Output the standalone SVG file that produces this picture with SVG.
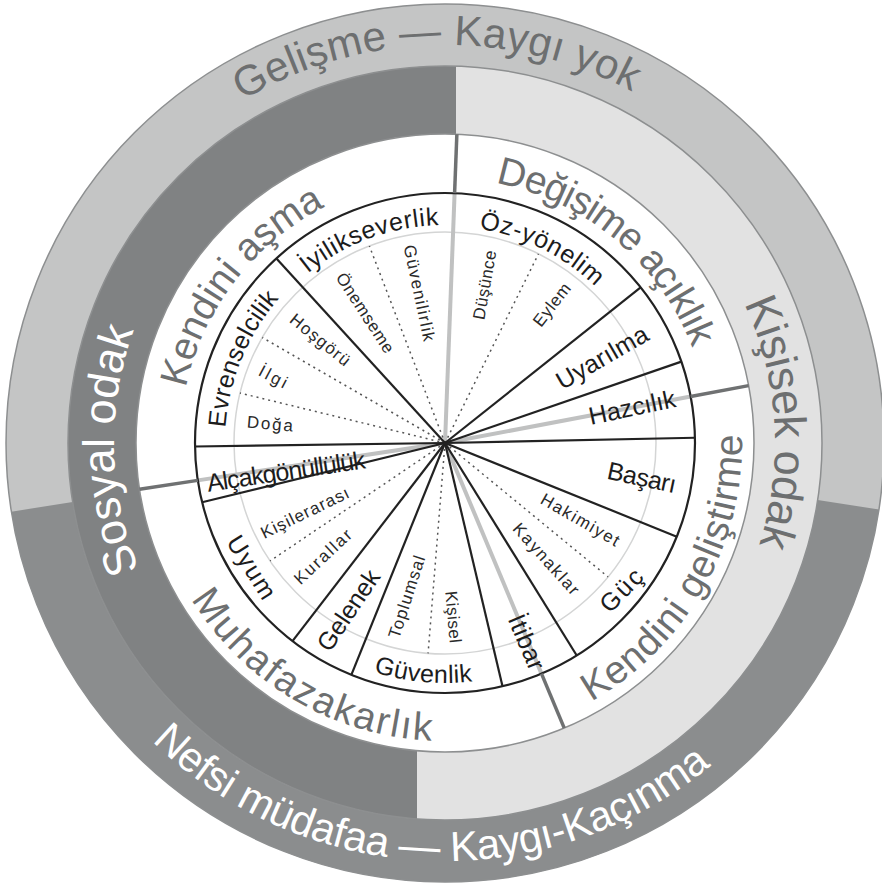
<svg xmlns="http://www.w3.org/2000/svg" width="882" height="892" viewBox="0 0 882 892">
<defs>
<style>
text { font-family: "Liberation Sans", Arial, sans-serif; }
.outer { font-size: 42px; }
.ring2 { font-size: 45px; }
.ho { font-size: 39px; fill: #6d6f70; }
.val { font-size: 25px; fill: #1c1c1c; }
.sub { font-size: 17px; fill: #2a2a2a; }
.c { text-anchor: middle; dominant-baseline: central; }
.blk { stroke: #222; stroke-width: 2.2; }
.dot { stroke: #555; stroke-width: 1.5; stroke-dasharray: 2 4; }
.lt { stroke: #c0c1c1; stroke-width: 4; }
.dk { stroke: #6f7172; stroke-width: 3.5; }
.ringline { fill: none; stroke: #8d8f90; stroke-width: 1.5; }
</style>
<path id="p-gel" d="M242.40,100.43 A398,398 0 0 1 673.29,116.98"/>
<path id="p-nef" d="M152.02,741.14 A418,418 0 0 0 765.21,711.69"/>
<path id="p-sos" d="M139.20,569.67 A331,331 0 0 1 145.01,303.11"/>
<path id="p-kis" d="M744.08,303.54 A330,330 0 0 1 744.08,582.46"/>
<path id="p-ka" d="M185.79,387.90 A265,265 0 0 1 354.36,193.98"/>
<path id="p-deg" d="M495.56,182.87 A265,265 0 0 1 705.97,396.98"/>
<path id="p-kg" d="M591.25,701.50 A297,297 0 0 0 737.49,391.43"/>
<path id="p-muh" d="M191.18,599.15 A298,298 0 0 0 496.75,736.47"/>
<path id="p-evr" d="M225.54,427.65 A220,220 0 0 1 303.59,274.47"/>
<path id="p-iyi" d="M307.81,273.58 A218,218 0 0 1 464.00,225.83"/>
<path id="p-oz" d="M478.95,228.67 A217,217 0 0 1 611.23,303.51"/>
<path id="p-guv" d="M373.63,672.14 A240,240 0 0 0 527.08,668.53"/>
</defs>

<g id="rings">
<circle cx="445" cy="443" r="439" fill="#c4c5c5"/>
<path d="M878.95,509.40 A439,439 0 0 1 11.40,511.67 L72.64,501.97 A377,377 0 0 0 817.66,500.03 Z" fill="#8b8d8e"/>
<circle cx="445" cy="443" r="377" fill="#e2e2e2"/>
<path d="M456,66.16 A377,377 0 0 0 417,818.96 L417,750.73 A309,309 0 0 1 456,134.20 Z" fill="#808283"/>
<circle cx="445" cy="443" r="309" fill="#ffffff"/>
<circle class="ringline" cx="445" cy="443" r="439"/>
<circle class="ringline" cx="445" cy="443" r="377"/>
<circle class="ringline" cx="445" cy="443" r="309"/>
<circle cx="445" cy="443" r="211" fill="none" stroke="#d4d5d5" stroke-width="1.5"/>
</g>

<g id="connectors">
<line class="lt" x1="445" y1="443" x2="454.60" y2="193.19"/>
<line class="lt" x1="445" y1="443" x2="690.65" y2="396.58"/>
<line class="lt" x1="445" y1="443" x2="541.48" y2="673.64"/>
<line class="lt" x1="445" y1="443" x2="197.81" y2="480.39"/>
<line class="dot" x1="445" y1="443" x2="240.00" y2="393.03"/>
<line class="dot" x1="445" y1="443" x2="262.27" y2="337.50"/>
<line class="dot" x1="445" y1="443" x2="369.38" y2="246.01"/>
<line class="dot" x1="445" y1="443" x2="538.49" y2="253.84"/>
<line class="dot" x1="445" y1="443" x2="608.05" y2="576.91"/>
<line class="dot" x1="445" y1="443" x2="428.08" y2="653.32"/>
<line class="dot" x1="445" y1="443" x2="270.07" y2="560.99"/>
<line class="blk" x1="445" y1="443" x2="276.43" y2="258.39"/>
<line class="blk" x1="445" y1="443" x2="640.65" y2="287.37"/>
<line class="blk" x1="445" y1="443" x2="681.38" y2="361.61"/>
<line class="blk" x1="445" y1="443" x2="694.95" y2="437.76"/>
<line class="blk" x1="445" y1="443" x2="676.80" y2="536.65"/>
<line class="blk" x1="445" y1="443" x2="576.74" y2="655.47"/>
<line class="blk" x1="445" y1="443" x2="502.51" y2="686.30"/>
<line class="blk" x1="445" y1="443" x2="351.35" y2="674.80"/>
<line class="blk" x1="445" y1="443" x2="292.46" y2="641.07"/>
<line class="blk" x1="445" y1="443" x2="202.11" y2="502.21"/>
<line class="blk" x1="445" y1="443" x2="195.02" y2="446.49"/>
<circle cx="445" cy="443" r="250" fill="none" stroke="#222" stroke-width="2.2"/>
<line class="dk" x1="454.60" y1="193.19" x2="456.86" y2="134.23"/>
<line class="dk" x1="690.65" y1="396.58" x2="748.63" y2="385.63"/>
<line class="dk" x1="541.48" y1="673.64" x2="564.25" y2="728.06"/>
<line class="dk" x1="197.81" y1="480.39" x2="139.47" y2="489.21"/>
</g>

<g id="outer-labels">
<text class="outer" fill="#6d6f70"><textPath href="#p-gel" textLength="407" lengthAdjust="spacing">Gelişme — Kaygı yok</textPath></text>
<text class="outer" fill="#ffffff"><textPath href="#p-nef" textLength="613" lengthAdjust="spacing">Nefsi müdafaa — Kaygı-Kaçınma</textPath></text>
<text class="ring2" fill="#ffffff"><textPath href="#p-sos" textLength="245" lengthAdjust="spacing">Sosyal odak</textPath></text>
<text class="ring2" fill="#6d6f70"><textPath href="#p-kis" textLength="247" lengthAdjust="spacing">Kişisek odak</textPath></text>
</g>

<g id="higher-order">
<text class="ho"><textPath href="#p-ka" textLength="236" lengthAdjust="spacing">Kendini aşma</textPath></text>
<text class="ho"><textPath href="#p-deg" textLength="268" lengthAdjust="spacing">Değişime açıklık</textPath></text>
<text class="ho"><textPath href="#p-kg" textLength="322" lengthAdjust="spacing">Kendini geliştirme</textPath></text>
<text class="ho"><textPath href="#p-muh" textLength="290" lengthAdjust="spacing">Muhafazakarlık</textPath></text>
</g>

<g id="values">
<text class="val"><textPath href="#p-evr" textLength="142" lengthAdjust="spacing">Evrenselcilik</textPath></text>
<text class="val"><textPath href="#p-iyi" textLength="142" lengthAdjust="spacing">İyilikseverlik</textPath></text>
<text class="val"><textPath href="#p-oz" textLength="132" lengthAdjust="spacing">Öz-yönelim</textPath></text>
<text class="val"><textPath href="#p-guv" textLength="100" lengthAdjust="spacing">Güvenlik</textPath></text>
<text class="val c" transform="translate(602,357) rotate(-30)" textLength="102">Uyarılma</text>
<text class="val c" transform="translate(632,407) rotate(-12)" textLength="88">Hazcılık</text>
<text class="val c" transform="translate(642,477) rotate(12)" textLength="70">Başarı</text>
<text class="val c" transform="translate(621,590) rotate(-46)" textLength="50">Güç</text>
<text class="val c" transform="translate(527,642) rotate(67)" textLength="58">İtibar</text>
<text class="val c" transform="translate(348,610) rotate(-56)" textLength="92">Gelenek</text>
<text class="val c" transform="translate(252,567) rotate(58)" textLength="70">Uyum</text>
<text class="val c" transform="translate(286,471) rotate(-8.5)" textLength="160">Alçakgönüllülük</text>
</g>

<g id="subvalues">
<text class="sub c" transform="translate(270,424) rotate(5)" textLength="46">Doğa</text>
<text class="sub c" transform="translate(273,377) rotate(28)" textLength="30">İlgi</text>
<text class="sub c" transform="translate(320,340) rotate(39)" textLength="72">Hoşgörü</text>
<text class="sub c" transform="translate(365,313) rotate(57)" textLength="92">Önemseme</text>
<text class="sub c" transform="translate(419,293) rotate(78)" textLength="98">Güvenilirlik</text>
<text class="sub c" transform="translate(485,285) rotate(-80)" textLength="70">Düşünce</text>
<text class="sub c" transform="translate(552,305) rotate(-52)" textLength="50">Eylem</text>
<text class="sub c" transform="translate(580,520) rotate(30)" textLength="88">Hakimiyet</text>
<text class="sub c" transform="translate(546,559) rotate(48)" textLength="90">Kaynaklar</text>
<text class="sub c" transform="translate(453,617) rotate(85)" textLength="52">Kişisel</text>
<text class="sub c" transform="translate(407,597) rotate(-72)" textLength="86">Toplumsal</text>
<text class="sub c" transform="translate(323,557) rotate(-43)" textLength="72">Kurallar</text>
<text class="sub c" transform="translate(305,513) rotate(-26)" textLength="96">Kişilerarası</text>
</g>
</svg>
